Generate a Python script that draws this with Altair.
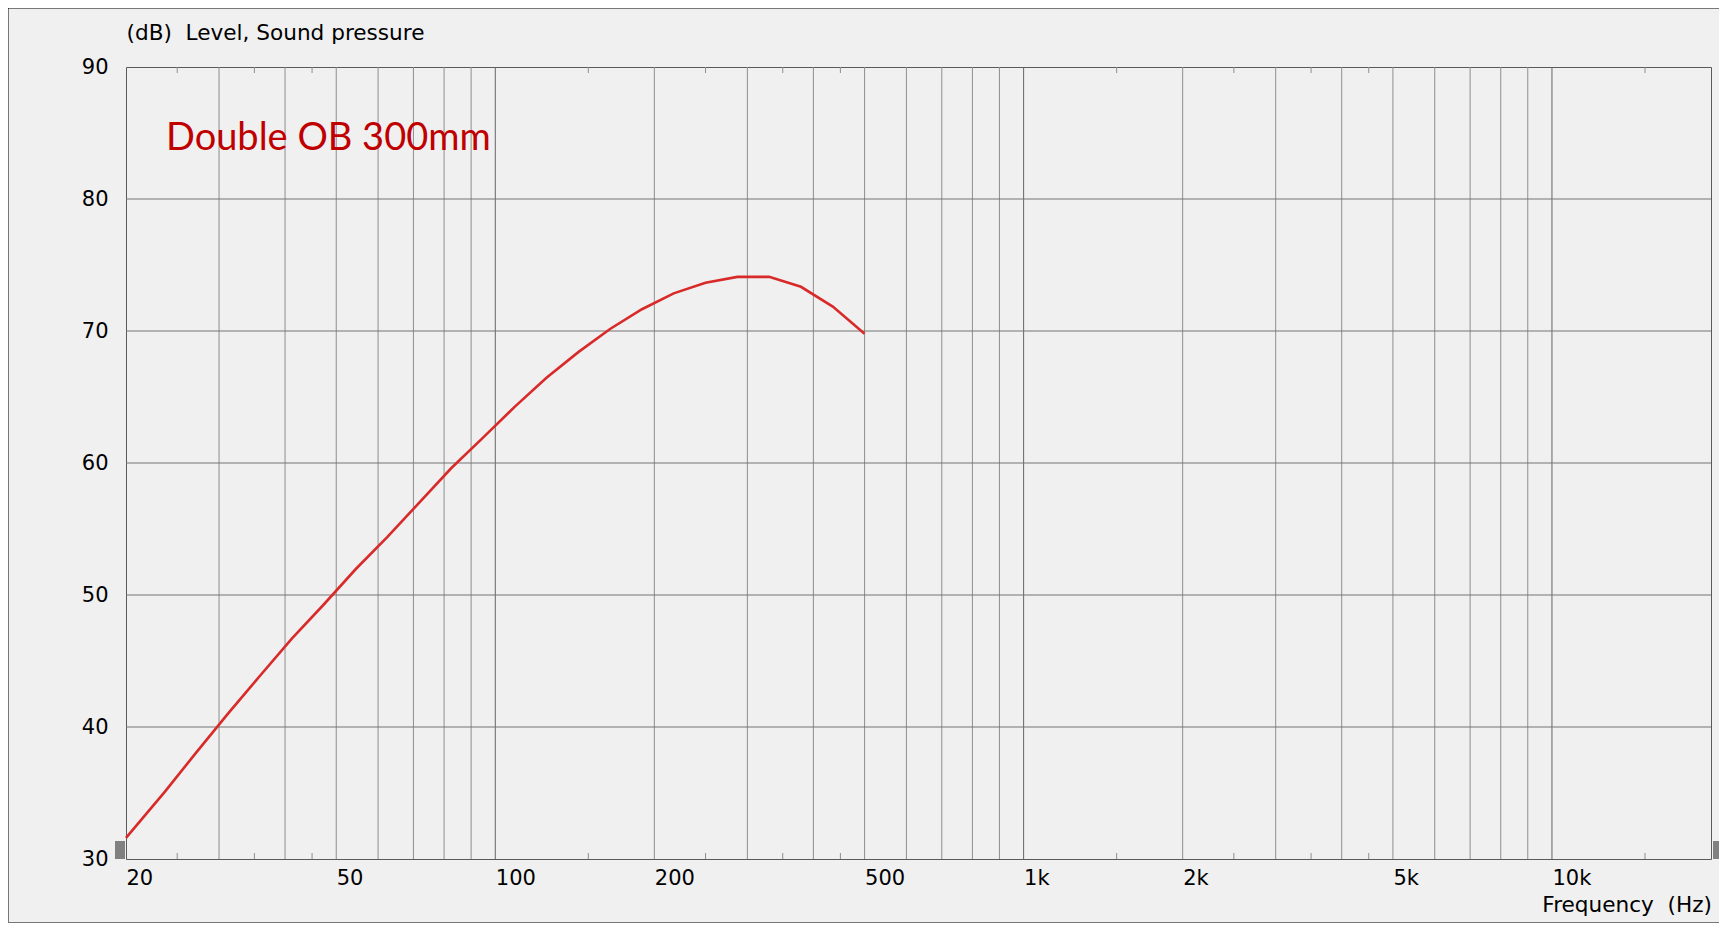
import altair as alt
import pandas as pd

# ---- data ----
freq_hz = [20, 23.7, 27.2, 31.25, 35.9, 41.2, 47.4, 54.4, 62.5, 71.8, 82.5,
           94.7, 108.8, 125, 143.6, 164.9, 189.5, 217.6, 250, 287.2, 329.9,
           378.9, 435.3, 500]
spl_db = [31.6, 35.1, 38.1, 41.05, 43.9, 46.7, 49.3, 51.95, 54.4, 57.0, 59.6,
          61.9, 64.25, 66.45, 68.4, 70.15, 71.65, 72.85, 73.65, 74.1, 74.1,
          73.35, 71.85, 69.8]

grid_minor_hz = [30, 40, 50, 60, 70, 80, 90,
                 200, 300, 400, 500, 600, 700, 800, 900,
                 2000, 3000, 4000, 5000, 6000, 7000, 8000, 9000]
grid_decade_hz = [100, 1000, 10000]
minor_tick_hz = [25, 35, 45, 150, 250, 350, 450, 1500, 2500, 3500, 4500, 15000]
label_hz = [20, 50, 100, 200, 500, 1000, 2000, 5000, 10000]
y_ticks = [30, 40, 50, 60, 70, 80, 90]
y_grid = [40, 50, 60, 70, 80]

title_y = "(dB)\u00a0 Level, Sound pressure"
title_x = "Frequency\u00a0 (Hz)"
annotation = "Double OB 300mm"

W, H = 1585, 792
FONT = "DejaVu Sans"
FS = 21
FS_T = 21.6

xs = alt.Scale(type="log", domain=[20, 20000], nice=False)
ys = alt.Scale(domain=[30, 90], nice=False, zero=False)

x_axis = alt.Axis(
    values=label_hz, grid=False, ticks=False, tickSize=0, domain=False,
    labelAlign="left", labelBaseline="middle", labelPadding=19.5,
    labelFont=FONT, labelFontSize=FS, labelColor="#000000",
    labelExpr="datum.value >= 1000 ? (datum.value / 1000) + 'k' : datum.value",
    labelOverlap=False, labelFlush=False, title=None,
)
y_axis = alt.Axis(
    values=y_ticks, grid=False, ticks=False, tickSize=0, domain=False,
    labelAlign="right", labelBaseline="middle", labelPadding=18,
    labelFont=FONT, labelFontSize=FS, labelColor="#000000",
    labelOverlap=False, labelFlush=False, title=None,
)

X = lambda field: alt.X(field, scale=xs, axis=x_axis)
Y = lambda field: alt.Y(field, scale=ys, axis=y_axis)

curve = pd.DataFrame({"f": freq_hz, "db": spl_db})

vgrid = alt.Chart(pd.DataFrame({"f": grid_minor_hz})).mark_rule(
    color="#8e8e8e", strokeWidth=1
).encode(x=X("f:Q"))

dgrid = alt.Chart(pd.DataFrame({"f": grid_decade_hz})).mark_rule(
    color="#646464", strokeWidth=1
).encode(x=X("f:Q"))

hgrid = alt.Chart(pd.DataFrame({"v": y_grid})).mark_rule(
    color="#747474", strokeWidth=1
).encode(y=Y("v:Q"))

tick_df = pd.DataFrame({"f": minor_tick_hz})
ticks_bottom = alt.Chart(tick_df).mark_rule(color="#8e8e8e", strokeWidth=1).encode(
    x=X("f:Q"), y=alt.value(H - 6), y2=alt.value(H)
)
ticks_top = alt.Chart(tick_df).mark_rule(color="#8e8e8e", strokeWidth=1).encode(
    x=X("f:Q"), y=alt.value(0), y2=alt.value(6)
)

line = alt.Chart(curve).mark_line(color="#d92a2a", strokeWidth=2.6).encode(
    x=X("f:Q"), y=Y("db:Q")
)

ytitle = alt.Chart(pd.DataFrame({"t": [title_y]})).mark_text(
    align="left", baseline="middle", font=FONT, fontSize=FS_T, color="#000000"
).encode(text="t:N", x=alt.value(0.5), y=alt.value(-33))

xtitle = alt.Chart(pd.DataFrame({"t": [title_x]})).mark_text(
    align="right", baseline="middle", font=FONT, fontSize=FS_T, color="#000000"
).encode(text="t:N", x=alt.value(W + 1), y=alt.value(839))

note = alt.Chart(pd.DataFrame({"t": [annotation]})).mark_text(
    align="left", baseline="alphabetic", font="Lato", fontSize=38, color="#c00000"
).encode(text="t:N", x=alt.value(40), y=alt.value(83))

marker_l = alt.Chart(pd.DataFrame({"k": [0]})).mark_rect(color="#808080").encode(
    x=alt.value(-11), x2=alt.value(-1), y=alt.value(H - 18), y2=alt.value(H)
)
marker_r = alt.Chart(pd.DataFrame({"k": [0]})).mark_rect(color="#808080").encode(
    x=alt.value(W + 2), x2=alt.value(W + 12), y=alt.value(H - 18), y2=alt.value(H)
)

dot = dict(color="#000000", strokeWidth=1, strokeDash=[1, 1])
border_top = alt.Chart(pd.DataFrame({"k": [0]})).mark_rule(**dot).encode(
    x=alt.value(-117.5), x2=alt.value(W + 10), y=alt.value(-58.5)
)
border_left = alt.Chart(pd.DataFrame({"k": [0]})).mark_rule(**dot).encode(
    x=alt.value(-117.5), y=alt.value(-58.5), y2=alt.value(855.5)
)
border_bottom = alt.Chart(pd.DataFrame({"k": [0]})).mark_rule(**dot).encode(
    x=alt.value(-117.5), x2=alt.value(W + 10), y=alt.value(855.5)
)

chart = alt.layer(
    vgrid, dgrid, hgrid, ticks_bottom, ticks_top, line, ytitle, xtitle, note,
    marker_l, marker_r, border_top, border_left, border_bottom,
).properties(
    width=W, height=H,
    autosize=alt.AutoSizeParams(type="none"),
    padding={"left": 118, "top": 59, "right": 8, "bottom": 64},
).configure(
    background="#f0f0f0"
).configure_view(
    stroke="#5a5a5a", strokeWidth=1, fill="#f0f0f0"
)

chart.save("out.html", embed_options={"renderer": "svg", "actions": False})
